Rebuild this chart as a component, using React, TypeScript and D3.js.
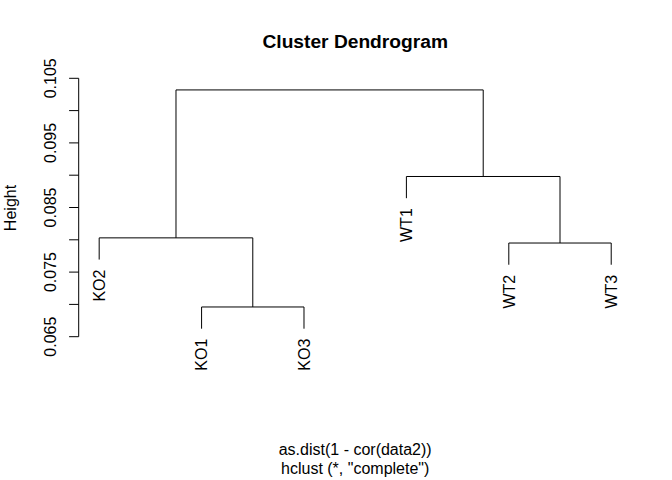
import * as d3 from 'd3';

// hclust-like data
const leafLabels = ['KO1', 'KO2', 'KO3', 'WT1', 'WT2', 'WT3'];
const leafOrder = ['KO2', 'KO1', 'KO3', 'WT1', 'WT2', 'WT3'];
// negative = leaf (1-based index into leafLabels), positive = earlier merge step
const mergeLeft = [-1, -5, -2, -4, 3];
const mergeRight = [-3, -6, 1, 2, 4];
const mergeHeights = [0.0696, 0.0795, 0.0803, 0.0898, 0.1032];
const yTicks = [0.065, 0.07, 0.075, 0.08, 0.085, 0.09, 0.095, 0.1, 0.105];
const yTickLabels = ['0.065', '0.075', '0.085', '0.095', '0.105'];

const title = 'Cluster Dendrogram';
const xLabel = 'as.dist(1 - cor(data2))';
const subLabel = 'hclust (*, "complete")';
const yLabel = 'Height';

const W = 672;
const H = 480;
const font = '"Liberation Sans", Arial, Helvetica, sans-serif';
const plotLeft = 78.7;
const plotRight = 631.7;

type Node = { name: string; height: number | null; children?: Node[] };

function buildTree(): Node {
    const steps: Node[] = [];
    const pick = (v: number): Node =>
        v < 0 ? { name: leafLabels[-v - 1], height: null } : steps[v - 1];
    mergeHeights.forEach((h, i) => {
        steps.push({ name: `m${i + 1}`, height: h, children: [pick(mergeLeft[i]), pick(mergeRight[i])] });
    });
    return steps[steps.length - 1];
}

export default function App() {
    const n = leafOrder.length;
    const xScale = d3.scaleLinear().domain([1 - 0.04 * (n - 1), n + 0.04 * (n - 1)]).range([plotLeft, plotRight]);
    const yScale = d3.scaleLinear().domain([0.065, 0.105]).range([336.7, 78.3]);

    const hang = 0.1 * (d3.max(mergeHeights)! - d3.min(mergeHeights)!);

    const root = d3.hierarchy<Node>(buildTree());
    const pos = new Map<any, { x: number; y: number }>();
    root.eachAfter(d => {
        if (!d.children) {
            const x = xScale(leafOrder.indexOf(d.data.name) + 1);
            const y = yScale((d.parent!.data.height as number) - hang);
            pos.set(d, { x, y });
        } else {
            const xs = d.children.map(c => pos.get(c)!.x);
            pos.set(d, { x: d3.mean(xs)!, y: yScale(d.data.height as number) });
        }
    });

    const links: string[] = [];
    root.each(d => {
        if (!d.children) return;
        const p = pos.get(d)!;
        const a = pos.get(d.children[0])!;
        const b = pos.get(d.children[1])!;
        const path = d3.path();
        path.moveTo(a.x, a.y);
        path.lineTo(a.x, p.y);
        path.lineTo(b.x, p.y);
        path.lineTo(b.x, b.y);
        links.push(path.toString());
    });

    const cx = (plotLeft + plotRight) / 2;
    const axisX = plotLeft;

    return (
        <svg width={W} height={H} style={{ position: 'absolute', left: 0, top: 0, background: '#fff' }} fontFamily={font}>
            <rect width={W} height={H} fill="#fff" />
            <text x={cx} y={48} textAnchor="middle" fontSize={19.2} fontWeight="bold">{title}</text>

            {/* y axis */}
            <g stroke="#000" strokeWidth={1} fill="none">
                <line x1={axisX} x2={axisX} y1={yScale(yTicks[0])} y2={yScale(yTicks[yTicks.length - 1])} />
                {yTicks.map(t => (
                    <line key={t} x1={axisX - 9.6} x2={axisX} y1={yScale(t)} y2={yScale(t)} />
                ))}
            </g>
            {yTickLabels.map(l => (
                <text key={l} transform={`translate(56,${yScale(+l)}) rotate(-90)`} textAnchor="middle" fontSize={16}>{l}</text>
            ))}
            <text transform={`translate(16,208) rotate(-90)`} textAnchor="middle" fontSize={16}>{yLabel}</text>

            {/* dendrogram */}
            <g stroke="#000" strokeWidth={1} fill="none">
                {links.map((d, i) => <path key={i} d={d} />)}
            </g>
            {root.leaves().map(l => {
                const p = pos.get(l)!;
                return (
                    <text key={l.data.name} transform={`translate(${p.x},${p.y + 10}) rotate(-90)`} dy="0.36em" textAnchor="end" fontSize={16}>
                        {l.data.name}
                    </text>
                );
            })}

            <text x={cx} y={455} textAnchor="middle" fontSize={16}>{xLabel}</text>
            <text x={cx} y={474} textAnchor="middle" fontSize={16}>{subLabel}</text>
        </svg>
    );
}
